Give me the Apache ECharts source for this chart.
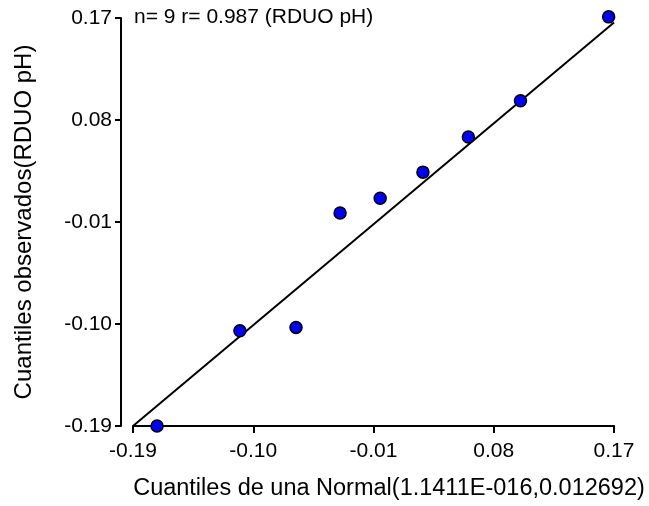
<!DOCTYPE html>
<html>
<head>
<meta charset="utf-8">
<script src="https://cdn.jsdelivr.net/npm/echarts@6/dist/echarts.min.js"></script>
<style>
  html, body { margin: 0; padding: 0; background: #fff; }
</style>
</head>
<body>
<div id="chart" style="width:649px;height:506px;"></div>
<script>
// theoretical quantiles (x) and observed quantiles (y)
var normalQuantiles = [-0.172, -0.110, -0.068, -0.035, -0.005, 0.027, 0.061, 0.100, 0.166];
var observedQuantiles = [-0.190, -0.106, -0.103, -0.002, 0.011, 0.034, 0.065, 0.097, 0.171];
// fitted line end points
var lineX = [-0.19, 0.17];
var lineY = [-0.19, 0.166];
var tickValues = [-0.19, -0.10, -0.01, 0.08, 0.17];
var infoText = 'n= 9 r= 0.987 (RDUO pH)';

var font = 'Liberation Sans, Arial, sans-serif';

var chart = echarts.init(document.getElementById('chart'));
chart.setOption({
    animation: false,
    title: {
        text: infoText,
        left: 134,
        top: 7,
        padding: 0,
        textStyle: { fontFamily: font, fontSize: 21, fontWeight: 'normal', color: '#000' }
    },
    grid: { left: 133, right: 35, top: 18, bottom: 79 },
    xAxis: {
        type: 'value',
        min: -0.19,
        max: 0.17,
        name: 'Cuantiles de una Normal(1.1411E-016,0.012692)',
        nameLocation: 'middle',
        nameGap: 51,
        nameTextStyle: { fontFamily: font, fontSize: 23.5, color: '#000', padding: [0, 0, 0, 31] },
        axisLine: { show: true, onZero: false, lineStyle: { color: '#000', width: 2 } },
        axisTick: { show: true, length: 7, lineStyle: { color: '#000', width: 2 }, customValues: tickValues },
        axisLabel: { fontFamily: font, fontSize: 21, color: '#000', margin: 15, customValues: tickValues,
            formatter: function (v) { return v.toFixed(2); } },
        splitLine: { show: false }
    },
    yAxis: {
        type: 'value',
        min: -0.19,
        max: 0.17,
        offset: 12,
        name: 'Cuantiles observados(RDUO pH)',
        nameLocation: 'middle',
        nameRotate: 90,
        nameGap: 85,
        nameTextStyle: { fontFamily: font, fontSize: 24, color: '#000' },
        axisLine: { show: true, onZero: false, lineStyle: { color: '#000', width: 2 } },
        axisTick: { show: true, length: 6, lineStyle: { color: '#000', width: 2 }, customValues: tickValues },
        axisLabel: { fontFamily: font, fontSize: 21, color: '#000', margin: 9, customValues: tickValues,
            formatter: function (v) { return v.toFixed(2); } },
        splitLine: { show: false }
    },
    series: [
        {
            type: 'line',
            data: lineX.map(function (x, i) { return [x, lineY[i]]; }),
            showSymbol: false,
            lineStyle: { color: '#000', width: 2 },
            z: 2
        },
        {
            type: 'scatter',
            data: normalQuantiles.map(function (x, i) { return [x, observedQuantiles[i]]; }),
            symbolSize: 12,
            clip: false,
            itemStyle: { color: '#0000ff', borderColor: '#000', borderWidth: 1.5, opacity: 1 },
            z: 3
        }
    ]
});
</script>
</body>
</html>
